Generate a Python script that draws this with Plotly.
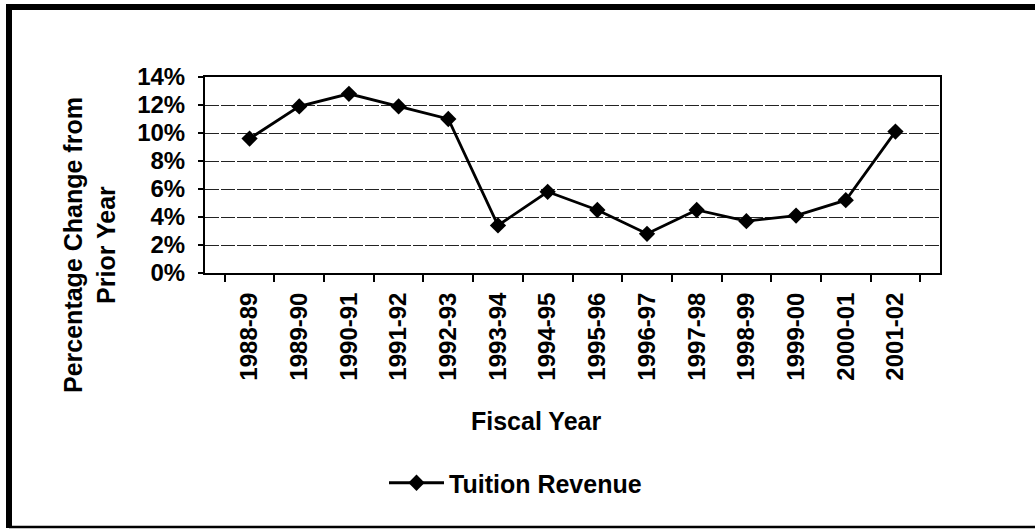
import plotly.graph_objects as go

# Fiscal years and year-over-year change in tuition revenue (percent)
fiscal_years = ["1988-89", "1989-90", "1990-91", "1991-92", "1992-93", "1993-94",
                "1994-95", "1995-96", "1996-97", "1997-98", "1998-99", "1999-00",
                "2000-01", "2001-02"]
tuition_change = [9.6, 11.9, 12.8, 11.9, 11.0, 3.4, 5.8, 4.5, 2.8, 4.5, 3.7, 4.1, 5.2, 10.1]
y_ticks = [0, 2, 4, 6, 8, 10, 12, 14]
y_tick_labels = [f"{v}%" for v in y_ticks]

W, H = 1035, 529
L, R, T, B = 205, 95, 77, 256
PW, PH = W - L - R, H - T - B


def px_x(x):
    return (x - L) / PW


def px_y(y):
    return (H - B - y) / PH


FONT = dict(family="Liberation Sans, Arial, sans-serif", color="black", weight=700)

fig = go.Figure()
fig.add_trace(go.Scatter(
    x=fiscal_years, y=tuition_change, mode="lines+markers",
    name="Tuition Revenue",
    line=dict(color="black", width=2.8),
    marker=dict(symbol="diamond", size=12.5, color="black"),
))

fig.update_layout(
    width=W, height=H,
    margin=dict(l=L, r=R, t=T, b=B, autoexpand=False),
    paper_bgcolor="white", plot_bgcolor="white",
    font=dict(size=24, **FONT),
    showlegend=True,
    legend=dict(orientation="h", x=px_x(384), y=px_y(483), xanchor="left",
                yanchor="middle", font=dict(size=25, **FONT), itemwidth=55,
                bgcolor="rgba(0,0,0,0)"),
    xaxis=dict(
        type="category", tickangle=-90, tickson="boundaries",
        ticks="outside", ticklen=7, tickwidth=1.5, tickcolor="black",
        showline=True, linecolor="black", linewidth=2, mirror=True,
        showgrid=False, tickfont=dict(size=24, **FONT),
        ticklabelstandoff=8,
    ),
    yaxis=dict(
        range=[0, 14], tickvals=y_ticks, ticktext=y_tick_labels,
        ticks="outside", ticklen=5, tickwidth=1.5, tickcolor="black",
        showline=True, linecolor="black", linewidth=2, mirror=True,
        showgrid=True, gridcolor="#222222", gridwidth=1.3,
        griddash="14px,2px", zeroline=False,
        tickfont=dict(size=24, **FONT), ticklabelstandoff=8,
    ),
)

fig.add_annotation(
    text="Percentage Change from<br>Prior Year", textangle=-90,
    xref="paper", yref="paper", x=px_x(89), y=px_y(245),
    xanchor="center", yanchor="middle", showarrow=False,
    font=dict(size=25, **FONT),
)
fig.add_annotation(
    text="Fiscal Year", xref="paper", yref="paper",
    x=px_x(536), y=px_y(421), xanchor="center", yanchor="middle",
    showarrow=False, font=dict(size=25, **FONT),
)

# outer frame of the chart
frame = [
    (6, 7, 1035, 7, 6),      # top
    (9, 4, 9, 528, 6),       # left
    (9, 527, 1035, 527, 2.5),  # bottom
]
for x0, y0, x1, y1, w in frame:
    fig.add_shape(type="line", xref="paper", yref="paper",
                  x0=px_x(x0), y0=px_y(y0), x1=px_x(x1), y1=px_y(y1),
                  line=dict(color="black", width=w))

fig.write_html("out.html")
